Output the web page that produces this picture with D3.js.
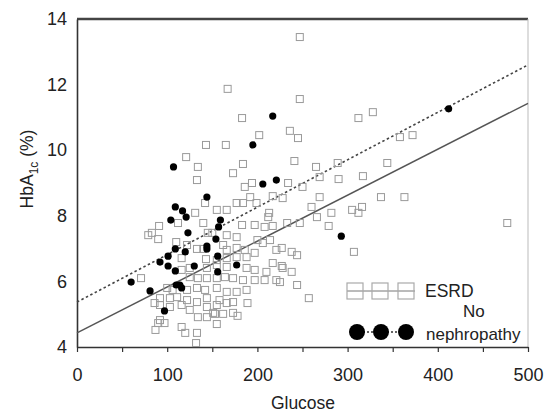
<!DOCTYPE html>
<html>
<head>
<meta charset="utf-8">
<script src="https://cdn.jsdelivr.net/npm/d3@7"></script>
<style>
  body { margin: 0; background: #fff; }
  text { font-family: "Liberation Sans", Arial, sans-serif; fill: #222; }
</style>
</head>
<body>
<div class="container"></div>
<script>
// ESRD patients: [glucose, HbA1c]
const esrd = [
  [247,13.45],[167,11.87],[247,11.56],[183,10.98],[202,10.46],[236,10.59],[245,10.37],
  [143,10.16],[165,10.16],[121,9.79],[134,9.49],[184,9.58],[173,9.30],[241,9.67],[133,9.09],
  [312,10.98],[328,11.16],[358,10.40],[372,10.46],[344,9.61],[265,9.49],[289,9.61],[317,9.21],
  [290,9.12],[269,9.18],[337,8.57],[363,8.57],[269,8.57],[260,8.27],[266,7.96],[282,8.09],
  [279,7.69],[305,8.18],[312,8.09],[316,8.27],[307,6.90],[257,5.49],[477,7.78],
  [194,9.00],[186,8.88],[234,9.00],[250,8.88],[192,8.57],[217,8.60],[228,8.54],[184,8.39],
  [199,8.39],[142,8.39],[177,8.39],[131,8.09],[155,8.18],[166,8.18],[140,7.78],[112,7.78],
  [91,7.69],[79,7.41],[90,7.29],[83,7.48],[213,8.09],[212,7.96],[208,7.66],[217,7.69],
  [233,7.78],[247,7.78],[183,7.72],[197,7.72],[145,7.48],[150,7.48],[166,7.41],[177,7.35],
  [110,7.20],[122,7.11],[133,6.99],[140,6.99],[162,7.11],[166,6.96],[177,7.02],[186,6.96],
  [200,7.26],[206,7.17],[214,7.26],[221,6.96],[227,7.02],[238,6.90],[244,6.80],
  [116,6.71],[143,6.68],[155,6.65],[166,6.71],[177,6.74],[188,6.74],[197,6.87],[217,6.56],
  [227,6.47],[116,6.35],[125,6.41],[144,6.41],[155,6.50],[166,6.44],[188,6.41],[197,6.35],
  [210,6.29],[228,6.41],[238,6.29],[71,6.10],[125,6.13],[134,6.10],[144,6.10],[155,6.10],
  [164,6.13],[173,6.10],[184,6.04],[197,6.04],[208,6.04],[221,6.04],[225,5.98],[244,5.89],
  [100,5.80],[106,5.74],[122,5.74],[133,5.80],[142,5.74],[155,5.80],[166,5.68],[177,5.68],
  [188,5.74],[92,5.49],[103,5.49],[111,5.52],[122,5.43],[133,5.37],[144,5.49],[158,5.43],
  [173,5.37],[189,5.34],[86,5.34],[92,5.28],[103,5.22],[116,5.28],[125,5.13],[144,5.22],
  [155,5.28],[166,5.34],[151,5.04],[134,4.91],[144,4.91],[153,5.01],[162,5.01],[173,5.04],
  [178,4.95],[92,4.82],[97,4.73],[90,4.73],[155,4.70],[116,4.61],[120,4.43],[87,4.52],
  [133,4.43],[132,4.12]
];

// No nephropathy patients: [glucose, HbA1c]
const noNephropathy = [
  [217,11.04],[195,10.16],[107,9.49],[221,9.09],[206,8.97],[144,8.57],[109,8.27],[117,8.15],
  [121,7.96],[104,7.87],[159,7.87],[157,7.66],[123,7.48],[154,7.29],[144,7.08],[144,6.99],
  [109,6.99],[120,6.90],[101,6.77],[92,6.59],[101,6.47],[109,6.32],[156,6.77],[177,6.50],
  [130,6.47],[156,6.29],[60,5.98],[110,5.89],[114,5.89],[116,5.80],[81,5.71],[97,5.10],
  [293,7.38],[412,11.26]
];

// regression lines, endpoints at glucose 0 and 500
const fitGlucose = [0, 500];
const esrdFit = [4.43, 11.43];
const noNephFit = [5.37, 12.6];

const xTicks = [0, 100, 200, 300, 400, 500];
const yTicks = [4, 6, 8, 10, 12, 14];

const width = 545, height = 414;
const svg = d3.select(".container")
    .append("svg")
        .attr("width", width)
        .attr("height", height);

const x = d3.scaleLinear().domain([0, 500]).range([77, 528]);
const y = d3.scaleLinear().domain([4, 14]).range([347, 19]);

// frame: top heavy, right light
svg.append("line")
    .attr("x1", x(0)).attr("x2", x(500))
    .attr("y1", y(14)).attr("y2", y(14))
    .attr("stroke", "#444").attr("stroke-width", 2.5);
svg.append("line")
    .attr("x1", x(500)).attr("x2", x(500))
    .attr("y1", y(14)).attr("y2", y(4))
    .attr("stroke", "#bbb").attr("stroke-width", 1);

// axes
const xAxis = svg.append("g")
    .attr("transform", `translate(0,${y(4)})`)
    .call(d3.axisBottom(x).tickValues(d3.range(0, 501, 50)).tickSize(5).tickSizeOuter(0)
        .tickFormat(d => xTicks.includes(d) ? d : ""));
const yAxis = svg.append("g")
    .attr("transform", `translate(${x(0)},0)`)
    .call(d3.axisLeft(y).tickValues(yTicks).tickSize(0).tickPadding(10));

[xAxis, yAxis].forEach(a => {
    a.select(".domain").attr("stroke", "#333").attr("stroke-width", 1.6);
    a.selectAll(".tick line").attr("stroke", "#333").attr("stroke-width", 1.2);
    a.selectAll(".tick text")
        .attr("font-size", 18)
        .attr("font-family", "Liberation Sans, Arial, sans-serif")
        .attr("fill", "#222");
});
xAxis.selectAll(".tick text").attr("dy", "1.45em");

// axis titles
svg.append("text")
    .attr("x", 303).attr("y", 409)
    .attr("text-anchor", "middle")
    .attr("font-size", 17.5)
    .text("Glucose");

const yTitle = svg.append("text")
    .attr("transform", "translate(33,169) rotate(-90)")
    .attr("text-anchor", "middle")
    .attr("font-size", 17.5);
yTitle.append("tspan").text("HbA");
yTitle.append("tspan").attr("font-size", 12).attr("dy", 5).text("1c");
yTitle.append("tspan").attr("dy", -5).text(" (%)");

// regression lines
const line = d3.line().x(d => x(d[0])).y(d => y(d[1]));
svg.append("path")
    .attr("d", line(d3.zip(fitGlucose, esrdFit)))
    .attr("fill", "none").attr("stroke", "#555").attr("stroke-width", 1.5);
svg.append("path")
    .attr("d", line(d3.zip(fitGlucose, noNephFit)))
    .attr("fill", "none").attr("stroke", "#444").attr("stroke-width", 1.6)
    .attr("stroke-dasharray", "2.5,2.5");

// points
const sq = 7;
svg.append("g").selectAll("rect")
    .data(esrd)
    .join("rect")
        .attr("x", d => x(d[0]) - sq / 2)
        .attr("y", d => y(d[1]) - sq / 2)
        .attr("width", sq).attr("height", sq)
        .attr("fill", "none")
        .attr("stroke", "#9a9a9a").attr("stroke-width", 1);

svg.append("g").selectAll("circle")
    .data(noNephropathy)
    .join("circle")
        .attr("cx", d => x(d[0]))
        .attr("cy", d => y(d[1]))
        .attr("r", 3.6)
        .attr("fill", "#000");

// legend
const legend = svg.append("g");
legend.append("line")
    .attr("x1", 347).attr("x2", 415).attr("y1", 291).attr("y2", 291)
    .attr("stroke", "#777").attr("stroke-width", 1);
legend.selectAll("rect")
    .data([355, 380, 406])
    .join("rect")
        .attr("x", d => d - 8).attr("y", 283)
        .attr("width", 16).attr("height", 16)
        .attr("fill", "none").attr("stroke", "#aaa").attr("stroke-width", 1.2);
legend.append("text").attr("x", 425).attr("y", 297).attr("font-size", 17.5).text("ESRD");

legend.append("line")
    .attr("x1", 355).attr("x2", 407).attr("y1", 332).attr("y2", 332)
    .attr("stroke", "#333").attr("stroke-width", 1.5)
    .attr("stroke-dasharray", "2,2");
legend.selectAll("circle")
    .data([357, 381, 406])
    .join("circle")
        .attr("cx", d => d).attr("cy", 332).attr("r", 8)
        .attr("fill", "#000");
legend.append("text").attr("x", 463).attr("y", 317).attr("font-size", 17).text("No");
legend.append("text").attr("x", 426).attr("y", 340).attr("font-size", 17).text("nephropathy");
</script>
</body>
</html>
